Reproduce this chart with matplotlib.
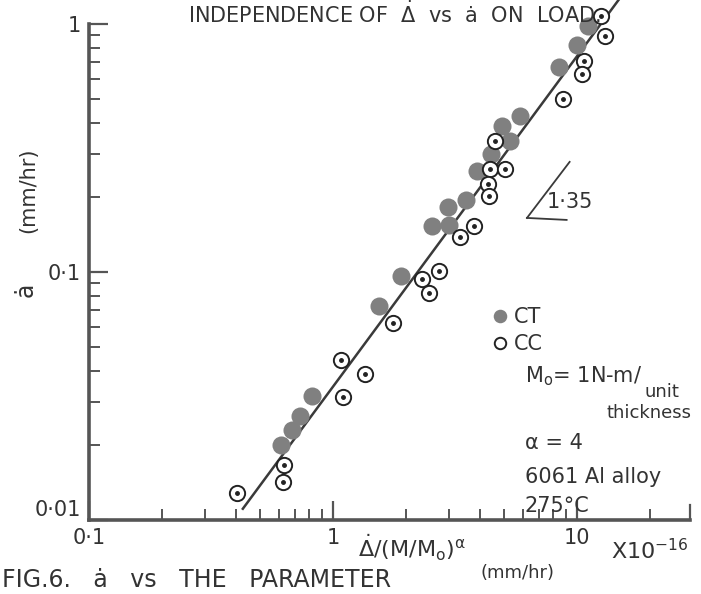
import matplotlib.pyplot as plt
from matplotlib.ticker import NullFormatter

plt.rcParams['font.family'] = ['DejaVu Sans']
plt.rcParams['mathtext.default'] = 'regular'

# CT specimens (filled) and CC specimens (open)
ct_x = [11.1, 9.97, 8.45, 5.83, 4.93, 5.33, 4.43, 3.89, 3.52, 2.95, 2.54, 2.99,
        1.90, 1.55, 0.82, 0.734, 0.676, 0.611]
ct_y = [0.978, 0.825, 0.670, 0.425, 0.389, 0.339, 0.299, 0.255, 0.196, 0.183,
        0.153, 0.155, 0.096, 0.073, 0.0315, 0.0263, 0.0231, 0.0200]

cc_x = [12.6, 12.97, 10.7, 10.5, 8.74, 4.63, 4.40, 5.06, 4.32, 4.37, 3.78, 3.32,
        2.71, 2.31, 2.48, 1.77, 1.08, 1.35, 1.10, 0.63, 0.626, 0.403]
cc_y = [1.08, 0.894, 0.706, 0.631, 0.498, 0.338, 0.260, 0.259, 0.226, 0.202,
        0.153, 0.139, 0.1006, 0.094, 0.0826, 0.062, 0.0443, 0.0387, 0.0314,
        0.0166, 0.0142, 0.0128]

# fitted line (slope ~1.35)
fit_x = [0.427, 15.6]
fit_y = [0.0111, 1.34]

x_ticks = [0.1, 1, 10]
x_ticklabels = ['0·1', '1', '10']
y_ticks = [0.01, 0.1, 1]
y_ticklabels = ['0·01', '0·1', '1']

ink = '#333333'
axis_col = '#555555'

fig = plt.figure(figsize=(7.01, 5.94), dpi=100)
ax = fig.add_axes([0.127, 0.1246, 0.857, 0.835])
ax.set_xscale('log')
ax.set_yscale('log')
ax.set_xlim(0.1, 29)
ax.set_ylim(0.01, 1)

ax.plot(fit_x, fit_y, color='#3a3a3a', lw=1.8, clip_on=False, zorder=2)
ax.plot(ct_x, ct_y, ls='none', marker='o', ms=13, mfc='#808080', mec='none',
        clip_on=False, zorder=3, label='CT')
ax.plot(cc_x, cc_y, ls='none', marker='o', ms=11, mfc='white', mec='#222222',
        mew=1.4, clip_on=False, zorder=4, label='CC')
ax.plot(cc_x, cc_y, ls='none', marker='o', ms=2.5, color='#222222',
        clip_on=False, zorder=5)

for s in ['top', 'right']:
    ax.spines[s].set_visible(False)
for s in ['left', 'bottom']:
    ax.spines[s].set_linewidth(2.6)
    ax.spines[s].set_color(axis_col)

ax.set_xticks(x_ticks)
ax.set_xticklabels(x_ticklabels)
ax.set_yticks(y_ticks)
ax.set_yticklabels(y_ticklabels)
ax.xaxis.set_minor_formatter(NullFormatter())
ax.yaxis.set_minor_formatter(NullFormatter())
ax.tick_params(which='major', direction='in', length=14, width=1.6,
               colors=axis_col, labelcolor=ink, labelsize=15, pad=6)
ax.tick_params(which='minor', direction='in', length=8, width=1.4, colors=axis_col)
# lift the 0.01 label a little, as in the scan
ax.get_yticklabels()[0].set_verticalalignment('bottom')
# end tick on the right of the x axis
ax.plot([1, 1], [0, 0.03], transform=ax.transAxes, color=axis_col, lw=1.6,
        clip_on=False)

ax.legend(loc='center left', bbox_to_anchor=(0.672, 0.382), frameon=False,
          fontsize=15, handlelength=0.7, handletextpad=0.3, labelspacing=0.35,
          markerscale=0.75, borderpad=0, borderaxespad=0, labelcolor=ink)

# notes
ax.text(0.725, 0.290, 'M$_o$= 1N-m/', transform=ax.transAxes, fontsize=15,
        color=ink, va='center')
ax.text(0.925, 0.258, 'unit', transform=ax.transAxes, fontsize=13,
        color=ink, va='center')
ax.text(1.003, 0.216, 'thickness', transform=ax.transAxes, fontsize=13,
        color=ink, va='center', ha='right')
ax.text(0.725, 0.155, 'α = 4', transform=ax.transAxes, fontsize=15,
        color=ink, va='center')
ax.text(0.725, 0.087, '6061 Al alloy', transform=ax.transAxes, fontsize=15,
        color=ink, va='center')
ax.text(0.725, 0.028, '275°C', transform=ax.transAxes, fontsize=15,
        color=ink, va='center')

# slope triangle
ax.plot([0.729, 0.800], [0.609, 0.722], transform=ax.transAxes, color='#3a3a3a', lw=1.3)
ax.plot([0.729, 0.795], [0.609, 0.605], transform=ax.transAxes, color='#3a3a3a', lw=1.3)
ax.text(0.800, 0.641, '1·35', transform=ax.transAxes, fontsize=15, color=ink,
        ha='center', va='center')

# axis labels
ax.text(0.537, -0.056, r'$\dot{\Delta}$/(M/M$_o$)$^{\alpha}$', transform=ax.transAxes,
        fontsize=16, color=ink, ha='center', va='center')
ax.text(0.714, -0.107, '(mm/hr)', transform=ax.transAxes, fontsize=13,
        color=ink, ha='center', va='center')
ax.text(0.933, -0.062, 'X10$^{-16}$', transform=ax.transAxes, fontsize=16,
        color=ink, ha='center', va='center')
fig.text(0.040, 0.680, '(mm/hr)', rotation=90, fontsize=15, color=ink,
         ha='center', va='center')
fig.text(0.036, 0.512, 'ȧ', rotation=90, fontsize=17, color=ink,
         ha='center', va='center')

# title at the top and caption at the bottom
fig.text(0.857, 0.999, r'INDEPENDENCE OF  $\dot{\Delta}$  vs  ȧ  ON  LOAD.',
         ha='right', va='top', fontsize=15, color=ink)
fig.text(0.003, 0.004, 'FIG.6.   ȧ   vs   THE   PARAMETER',
         ha='left', va='bottom', fontsize=17, color=ink)

fig.savefig('out.png', dpi=100)
